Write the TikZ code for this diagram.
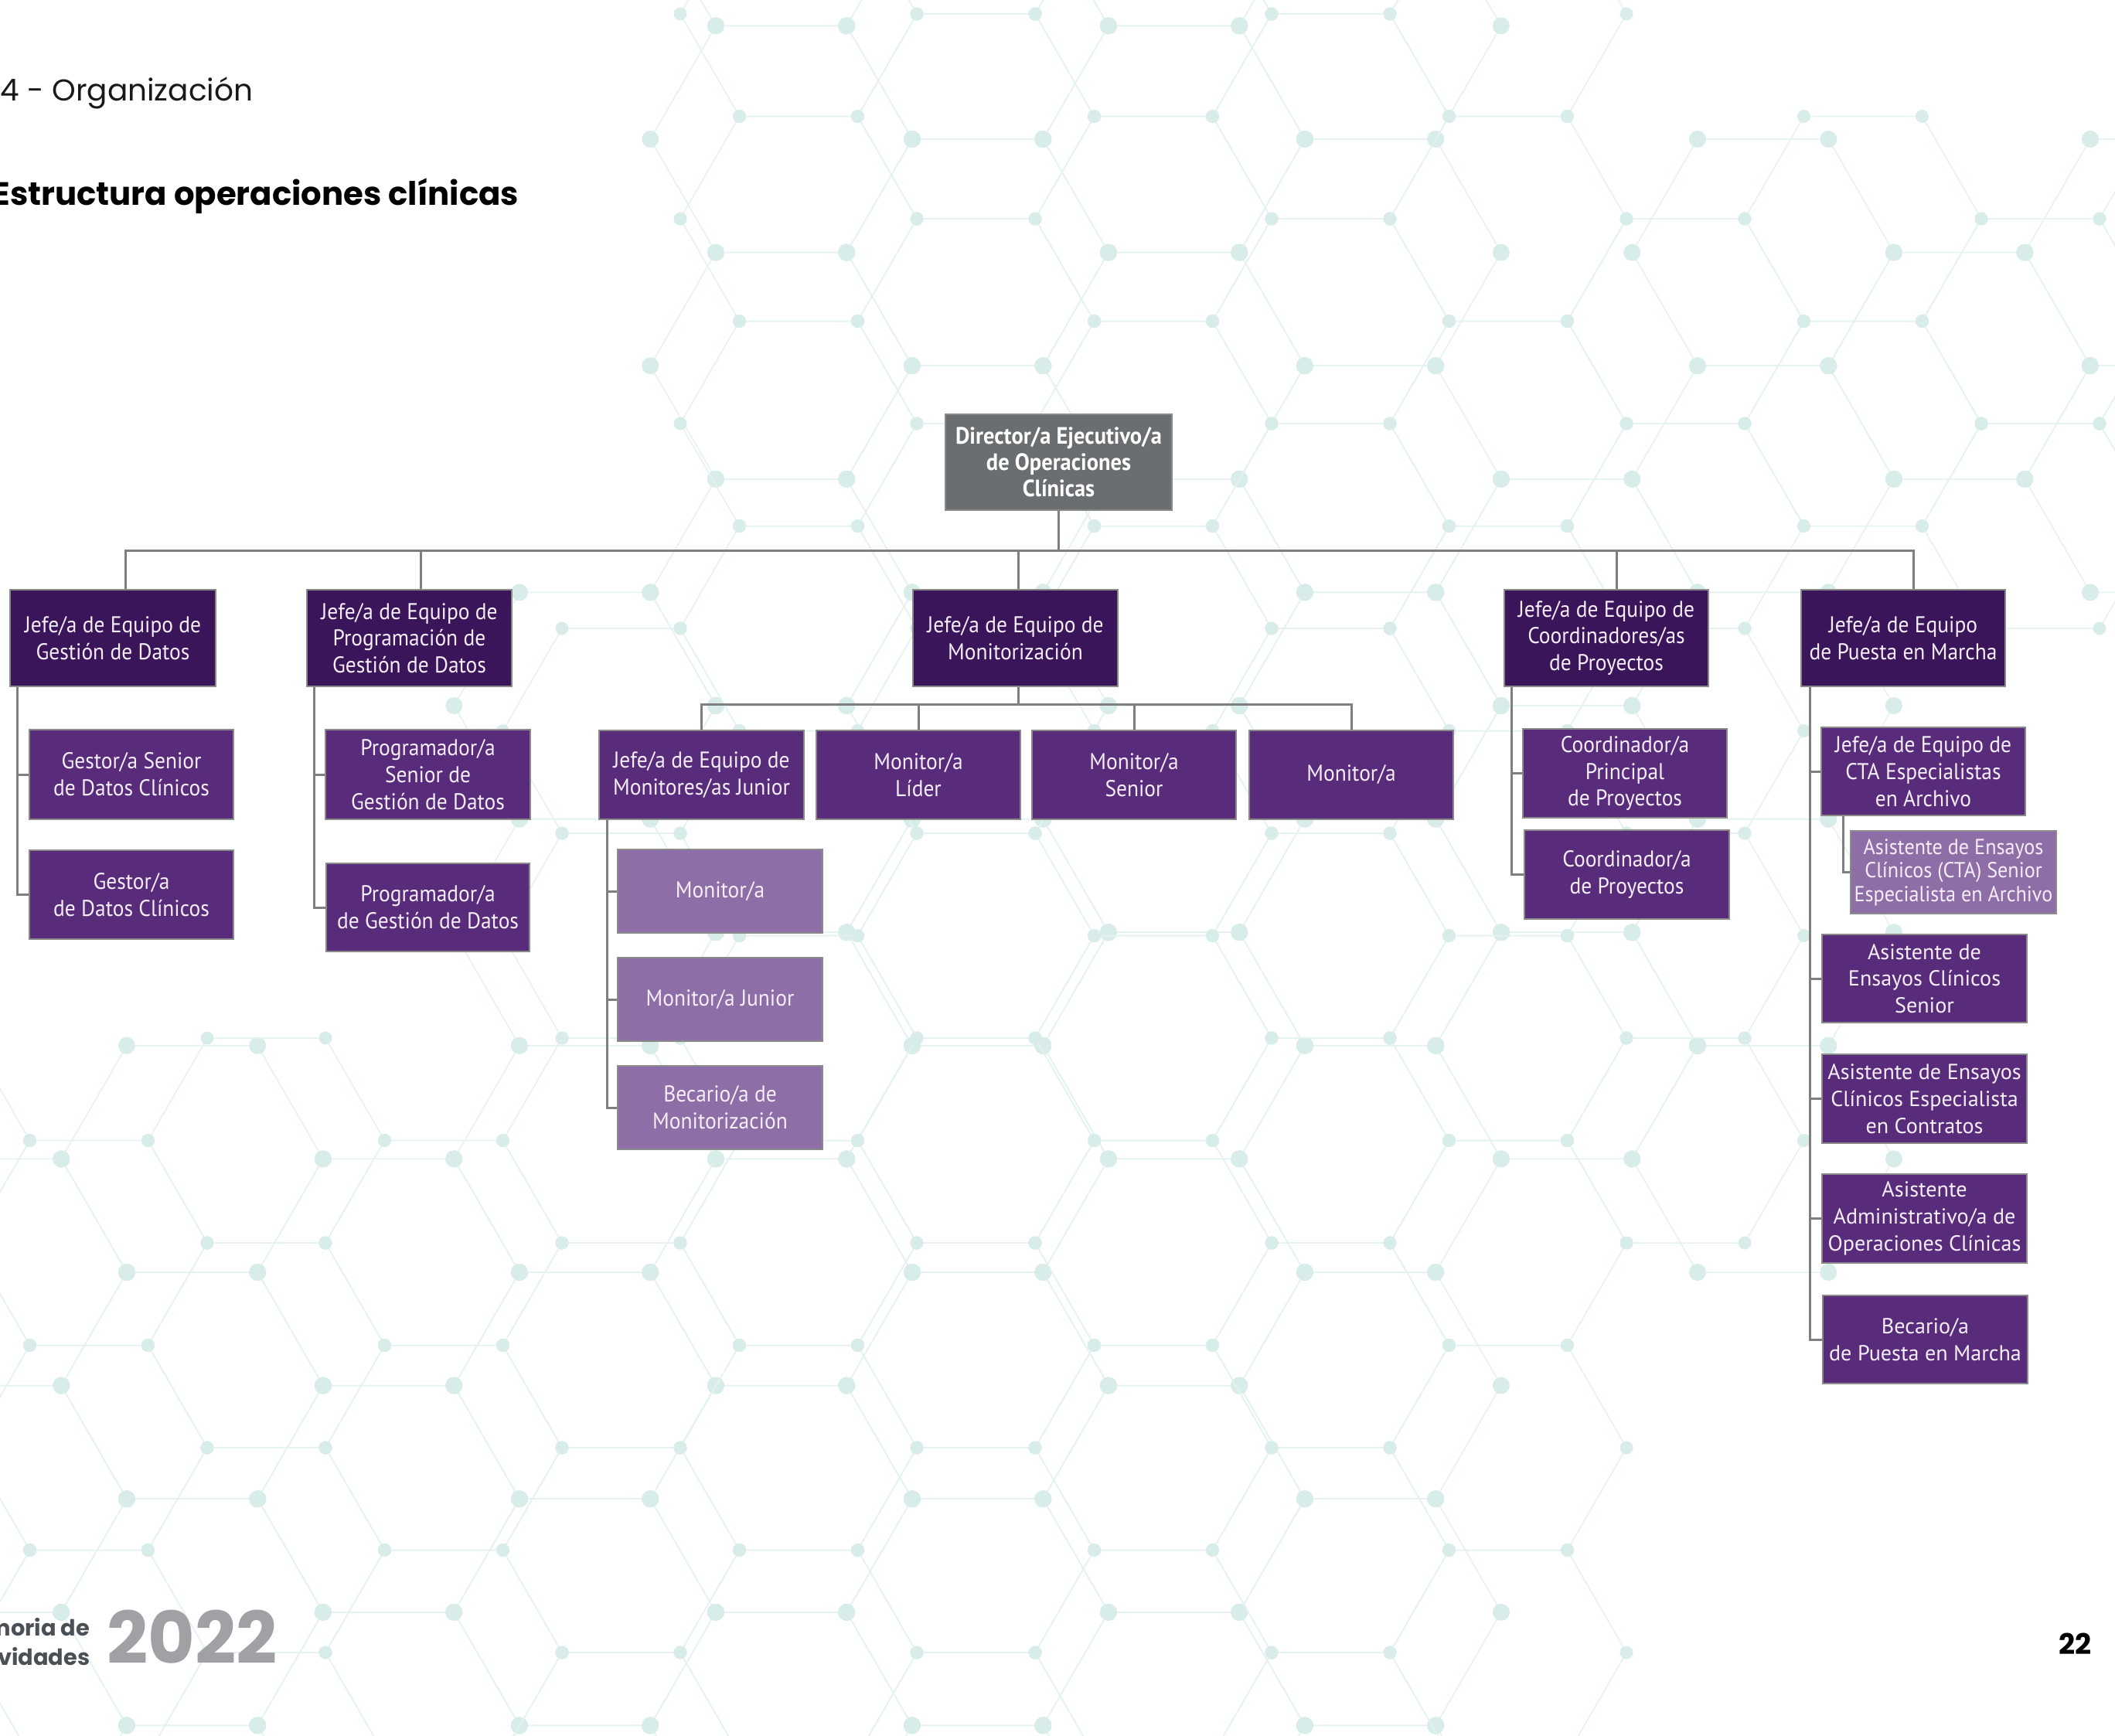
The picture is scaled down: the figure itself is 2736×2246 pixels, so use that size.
\documentclass[tikz,border=0pt]{standalone}
\usepackage{fontspec}
\setmainfont{PT Sans}
\newfontfamily\boxf[FakeStretch=0.93]{PT Sans}
\newfontfamily\boxw{PT Sans}
\newfontfamily\popf{Poppins}
\definecolor{cdir}{HTML}{6B6E70}
\definecolor{cdark}{HTML}{3A1559}
\definecolor{cmid}{HTML}{582C7A}
\definecolor{clight}{HTML}{8E6EA6}
\definecolor{cline}{HTML}{7F7F7F}
\definecolor{cborder}{HTML}{8A8A8A}
\definecolor{ctxt}{HTML}{F4EEF8}
\definecolor{hexl}{HTML}{E4F2F0}
\definecolor{hexd}{HTML}{D8EDEA}
\definecolor{cfoot}{HTML}{4B5056}
\definecolor{cyear}{HTML}{A1A1A5}
\newcommand{\orgbox}[7]{%
  \node[#6, minimum width={(#4-#2)*0.1mm}, minimum height={(#5-#3)*0.1mm}] (#1) at ({(#2+#4)/2},{(#3+#5)/2}) {#7};}
\newcommand{\regexpr}{or(or(and(and(\cx>820,\cx<1960),\cy<760),and(and(\cx>2060,\cy>250),\cy<760)),or(and(and(\cx>660,\cx<2300),and(\cy>=760,\cy<1520)),and(\cx<1960,\cy>1450)))}
\begin{document}
\begin{tikzpicture}[x=0.1mm,y=-0.1mm,
  rectbox/.style={draw=cborder, line width=0.2mm, text=ctxt, align=center, inner sep=0pt,
    font=\boxf\fontsize{8.4}{9.9}\selectfont},
  dirbox/.style={rectbox, fill=cdir, text=white, font=\boxf\bfseries\fontsize{8.7}{9.7}\selectfont},
  lvla/.style={rectbox, fill=cdark},
  lvlb/.style={rectbox, fill=cmid},
  lvlw/.style={rectbox, fill=cmid, font=\boxw\fontsize{8}{9.9}\selectfont},
  lvlc/.style={rectbox, fill=clight},
  lvlcs/.style={rectbox, fill=clight, font=\boxf\fontsize{8}{8.7}\selectfont},
  conn/.style={draw=cline, line width=0.3mm},
  hexline/.style={draw=hexl, line width=0.15mm},
  hexdot/.style={fill=hexd},
  plain/.style={inner sep=0pt}]
\useasboundingbox (0,0) rectangle (2736,2246);
\fill[white] (0,0) rectangle (2736,2246);
% background honeycombs (decoration)
\begin{scope}
\clip (0,0) rectangle (2736,2246);
\foreach \i in {0,...,13}{
  \foreach \j in {-2,...,7}{
    \pgfmathsetmacro\cx{1264.6+254*(\i-6)}
    \pgfmathsetmacro\cy{326.6+293.2*\j+146.6*mod(\i,2)}
    \pgfmathtruncatemacro\ok{\regexpr}
    \ifnum\ok=1
      \draw[hexline] ({\cx-169.3},{\cy}) -- ({\cx-84.65},{\cy-146.6}) -- ({\cx+84.65},{\cy-146.6})
        -- ({\cx+169.3},{\cy}) -- ({\cx+84.65},{\cy+146.6}) -- ({\cx-84.65},{\cy+146.6}) -- cycle;
      \foreach \vx/\vy in {-169.3/0, -84.65/-146.6, 84.65/-146.6, 169.3/0, 84.65/146.6, -84.65/146.6}{
        \fill[hexdot] ({\cx+(\vx)},{\cy+(\vy)}) circle[radius=1.1mm];}
    \fi
  }}
\foreach \i in {0,...,14}{
  \foreach \j in {-7,...,2}{
    \pgfmathsetmacro\cx{344.5+229.5*(\i-2)}
    \pgfmathsetmacro\cy{1740.5+265*\j+132.5*mod(\i,2)}
    \pgfmathtruncatemacro\ok{\regexpr}
    \ifnum\ok=1
      \draw[hexline] ({\cx-153},{\cy}) -- ({\cx-76.5},{\cy-132.5}) -- ({\cx+76.5},{\cy-132.5})
        -- ({\cx+153},{\cy}) -- ({\cx+76.5},{\cy+132.5}) -- ({\cx-76.5},{\cy+132.5}) -- cycle;
      \foreach \vx/\vy in {-153/0, -76.5/-132.5, 76.5/-132.5, 153/0, 76.5/132.5, -76.5/132.5}{
        \fill[hexdot] ({\cx+(\vx)},{\cy+(\vy)}) circle[radius=0.85mm];}
    \fi
  }}
\end{scope}
% texts
\node[plain, anchor=base east, font=\popf\fontsize{11.1}{13}\selectfont, text=black!90] (sec) at (328,130) {04 - Organización};
\node[plain, anchor=base east, font=\popf\bfseries\fontsize{11.9}{14}\selectfont, text=black] (title) at (672,265) {Estructura operaciones clínicas};
\node[plain, anchor=east, align=right, font=\popf\bfseries\fontsize{8.2}{10.9}\selectfont, text=cfoot] (mem) at (117,2124) {Memoria de\\actividades};
\node[plain, anchor=base west, font=\popf\bfseries\fontsize{26.5}{30}\selectfont, text=cyear] (year) at (138,2152) {2022};
\node[plain, anchor=base east, font=\popf\bfseries\fontsize{10.5}{12}\selectfont, text=black] (page) at (2706,2140) {22};
% boxes
\orgbox{dir}{1223}{536}{1516}{660}{dirbox}{Director/a Ejecutivo/a\\de Operaciones\\Clínicas}
\orgbox{A}{13}{763}{279}{888}{lvla}{Jefe/a de Equipo de\\Gestión de Datos}
\orgbox{B}{397}{763}{662}{888}{lvla}{Jefe/a de Equipo de\\Programación de\\Gestión de Datos}
\orgbox{C}{1181}{763}{1446}{888}{lvla}{Jefe/a de Equipo de\\Monitorización}
\orgbox{D}{1946}{763}{2210}{888}{lvla}{Jefe/a de Equipo de\\Coordinadores/as\\de Proyectos}
\orgbox{E}{2330}{763}{2594}{888}{lvla}{Jefe/a de Equipo\\de Puesta en Marcha}
\orgbox{A1}{38}{944}{302}{1060}{lvlb}{Gestor/a Senior\\de Datos Clínicos}
\orgbox{A2}{38}{1100}{302}{1215}{lvlb}{Gestor/a\\de Datos Clínicos}
\orgbox{B1}{421}{944}{686}{1060}{lvlb}{Programador/a\\Senior de\\Gestión de Datos}
\orgbox{B2}{422}{1117}{685}{1231}{lvlb}{Programador/a\\de Gestión de Datos}
\orgbox{C1}{775}{945}{1040}{1060}{lvlb}{Jefe/a de Equipo de\\Monitores/as Junior}
\orgbox{C2}{1056}{945}{1320}{1060}{lvlb}{Monitor/a\\Líder}
\orgbox{C3}{1335}{945}{1599}{1060}{lvlb}{Monitor/a\\Senior}
\orgbox{C4}{1616}{945}{1880}{1060}{lvlb}{Monitor/a}
\orgbox{C1a}{799}{1099}{1064}{1207}{lvlc}{Monitor/a}
\orgbox{C1b}{799}{1239}{1064}{1347}{lvlc}{Monitor/a Junior}
\orgbox{C1c}{799}{1379}{1064}{1487}{lvlc}{Becario/a de\\Monitorización}
\orgbox{D1}{1970}{943}{2234}{1058}{lvlb}{Coordinador/a\\Principal\\de Proyectos}
\orgbox{D2}{1972}{1074}{2237}{1189}{lvlb}{Coordinador/a\\de Proyectos}
\orgbox{E1}{2356}{941}{2620}{1055}{lvlb}{Jefe/a de Equipo de\\CTA Especialistas\\en Archivo}
\orgbox{E1a}{2394}{1075}{2660}{1182}{lvlcs}{Asistente de Ensayos\\Clínicos (CTA) Senior\\Especialista en Archivo}
\orgbox{E2}{2357}{1209}{2622}{1323}{lvlw}{Asistente de\\Ensayos Clínicos\\Senior}
\orgbox{E3}{2357}{1364}{2622}{1479}{lvlw}{Asistente de Ensayos\\Clínicos Especialista\\en Contratos}
\orgbox{E4}{2357}{1519}{2622}{1634}{lvlw}{Asistente\\Administrativo/a de\\Operaciones Clínicas}
\orgbox{E5}{2358}{1676}{2623}{1790}{lvlw}{Becario/a\\de Puesta en Marcha}
% connectors
\coordinate (busy) at (0,712);
\coordinate (bus2) at (0,911);
\draw[conn] (dir.south) -- (dir.south |- busy);
\draw[conn] ([xshift=1.6mm]A.north) -- ([xshift=1.6mm]A.north |- busy) -- ([xshift=1.3mm]E.north |- busy) -- ([xshift=1.3mm]E.north);
\draw[conn] ([xshift=1.45mm]B.north) -- ([xshift=1.45mm]B.north |- busy);
\draw[conn] ([xshift=0.35mm]C.north) -- ([xshift=0.35mm]C.north |- busy);
\draw[conn] ([xshift=1.3mm]D.north) -- ([xshift=1.3mm]D.north |- busy);
\draw[conn] ([xshift=0.35mm]C.south) -- ([xshift=0.35mm]C.south |- bus2);
\draw[conn] (C1.north) -- (C1.north |- bus2) -- (C4.north |- bus2) -- (C4.north);
\draw[conn] (C2.north) -- (C2.north |- bus2);
\draw[conn] (C3.north) -- (C3.north |- bus2);
\draw[conn] ([xshift=1mm]A.south west) |- (A2.west);
\draw[conn] ([xshift=1mm]A.south west |- A1.west) -- (A1.west);
\draw[conn] ([xshift=1mm]B.south west) |- (B2.west);
\draw[conn] ([xshift=1mm]B.south west |- B1.west) -- (B1.west);
\draw[conn] ([xshift=1.1mm]C1.south west) |- (C1c.west);
\draw[conn] ([xshift=1.1mm]C1.south west |- C1a.west) -- (C1a.west);
\draw[conn] ([xshift=1.1mm]C1.south west |- C1b.west) -- (C1b.west);
\draw[conn] ([xshift=1mm]D.south west) |- (D2.west);
\draw[conn] ([xshift=1mm]D.south west |- D1.west) -- (D1.west);
\draw[conn] ([xshift=1.2mm]E.south west) |- (E5.west);
\foreach \n in {E1,E2,E3,E4}{\draw[conn] ([xshift=1.2mm]E.south west |- \n.west) -- (\n.west);}
\draw[conn] ([xshift=2.9mm]E1.south west) |- (E1a.west);
\end{tikzpicture}
\end{document}
